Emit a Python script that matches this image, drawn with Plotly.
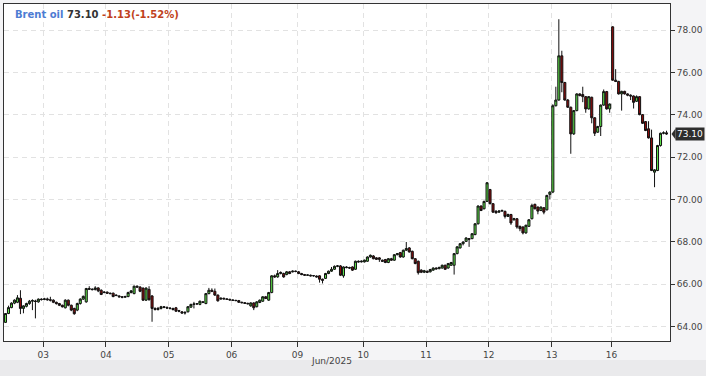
import plotly.graph_objects as go

# ---------------- data ----------------
day_labels = ["02", "03", "04", "05", "06", "09", "10", "11", "12", "13", "16"]
day_counts = [13, 21, 21, 21, 22, 22, 21, 21, 21, 20, 19]

open_ = [
    64.19, 64.61, 64.89, 65.10, 65.14, 65.33, 64.85, 64.95, 65.08, 65.19,
    65.20, 65.16, 65.29, 65.27, 65.30, 65.26, 65.24, 65.14, 65.08, 65.00,
    64.88, 65.24, 65.00, 64.85, 64.77, 65.08, 65.29, 65.16, 65.79, 65.76,
    65.74, 65.82, 65.71, 65.60, 65.62, 65.57, 65.57, 65.48, 65.44, 65.40,
    65.38, 65.41, 65.60, 65.55, 65.90, 65.86, 65.81, 65.24, 65.75, 65.44,
    64.85, 64.80, 64.85, 64.93, 64.90, 64.87, 64.85, 64.88, 64.75, 64.69,
    64.63, 64.69, 64.91, 65.04, 65.06, 65.04, 65.16, 65.08, 65.55, 65.71,
    65.66, 65.48, 65.29, 65.33, 65.30, 65.28, 65.25, 65.23, 65.22, 65.14,
    65.12, 65.09, 64.97, 65.11, 64.93, 65.13, 65.19, 65.40, 65.24, 65.60,
    66.39, 66.34, 66.50, 66.50, 66.45, 66.58, 66.58, 66.61, 66.58, 66.50,
    66.45, 66.42, 66.42, 66.39, 66.38, 66.39, 66.23, 66.27, 66.50, 66.61,
    66.70, 66.84, 66.86, 66.39, 66.81, 66.78, 66.81, 66.70, 67.08, 67.05,
    67.05, 67.08, 67.28, 67.33, 67.24, 67.24, 67.13, 67.16, 67.02, 67.20,
    67.13, 67.39, 67.49, 67.28, 67.60, 67.71, 67.55, 67.20, 67.08, 66.66,
    66.56, 66.61, 66.58, 66.66, 66.76, 66.73, 66.76, 66.89, 66.76, 66.89,
    66.89, 67.44, 67.71, 67.91, 68.02, 68.15, 68.15, 68.34, 68.85, 69.69,
    69.56, 69.91, 70.47, 69.80, 69.44, 69.40, 69.45, 69.44, 69.20, 69.29,
    69.04, 69.09, 68.73, 68.70, 68.42, 68.73, 69.09, 69.77, 69.64, 69.48,
    69.61, 69.51, 70.24, 70.35, 74.43, 74.70, 76.79, 75.53, 74.70, 74.36,
    73.10, 74.20, 74.99, 74.96, 74.86, 74.28, 74.83, 73.86, 73.18, 73.45,
    74.46, 75.10, 74.28, 78.16, 75.64, 75.58, 74.99, 75.11, 74.99, 74.93,
    74.89, 74.64, 74.86, 74.01, 73.68, 73.34, 72.91, 71.29, 71.37, 72.55,
    73.13, 73.15,
]
high = [
    64.63, 64.98, 65.14, 65.28, 65.48, 65.71, 65.00, 65.12, 65.25, 65.28,
    65.26, 65.32, 65.33, 65.35, 65.36, 65.40, 65.28, 65.17, 65.11, 65.03,
    65.28, 65.27, 65.03, 64.88, 65.12, 65.33, 65.46, 65.82, 65.90, 65.80,
    65.90, 65.85, 65.75, 65.66, 65.65, 65.60, 65.60, 65.52, 65.47, 65.43,
    65.45, 65.64, 65.72, 65.93, 65.94, 65.90, 65.84, 65.85, 65.90, 65.48,
    64.90, 64.92, 64.97, 64.96, 64.94, 64.90, 64.88, 64.92, 64.78, 64.72,
    64.72, 64.96, 65.07, 65.16, 65.10, 65.22, 65.20, 65.58, 65.82, 65.80,
    65.79, 65.51, 65.37, 65.36, 65.33, 65.31, 65.28, 65.26, 65.25, 65.17,
    65.15, 65.12, 65.14, 65.14, 65.19, 65.27, 65.43, 65.44, 65.63, 66.42,
    66.45, 66.66, 66.60, 66.54, 66.62, 66.62, 66.65, 66.64, 66.62, 66.53,
    66.48, 66.46, 66.45, 66.43, 66.41, 66.42, 66.26, 66.53, 66.64, 66.81,
    66.88, 66.90, 66.90, 66.84, 66.85, 66.82, 66.84, 67.11, 67.12, 67.12,
    67.16, 67.31, 67.40, 67.37, 67.27, 67.27, 67.16, 67.19, 67.23, 67.24,
    67.42, 67.47, 67.52, 67.63, 67.99, 67.75, 67.58, 67.23, 67.11, 66.70,
    66.67, 66.64, 66.72, 66.79, 66.79, 66.82, 66.92, 66.92, 67.00, 67.05,
    67.47, 67.79, 67.94, 68.02, 68.21, 68.18, 68.41, 68.88, 69.72, 69.72,
    69.94, 70.82, 70.50, 69.83, 69.50, 69.50, 69.52, 69.47, 69.33, 69.32,
    69.13, 69.12, 68.76, 68.73, 68.81, 69.07, 69.80, 69.80, 69.67, 69.67,
    69.64, 70.22, 70.38, 74.50, 75.33, 78.52, 77.03, 75.56, 74.75, 74.39,
    74.23, 75.02, 75.02, 75.33, 74.89, 74.89, 74.86, 73.89, 73.48, 74.49,
    75.20, 75.13, 74.54, 78.19, 76.16, 75.61, 75.14, 75.14, 75.02, 74.97,
    74.92, 74.92, 74.89, 74.04, 73.71, 73.70, 73.30, 71.43, 72.58, 73.16,
    73.22, 73.25,
]
low = [
    64.17, 64.58, 64.86, 65.05, 65.10, 64.58, 64.62, 64.90, 65.02, 64.77,
    64.38, 65.12, 65.22, 65.24, 65.22, 65.18, 65.10, 65.03, 64.96, 64.89,
    64.85, 64.95, 64.72, 64.55, 64.72, 65.03, 65.25, 65.12, 65.72, 65.70,
    65.70, 65.62, 65.48, 65.57, 65.54, 65.52, 65.38, 65.43, 65.36, 65.33,
    65.35, 65.38, 65.56, 65.52, 65.82, 65.62, 65.20, 65.20, 65.22, 64.22,
    64.75, 64.75, 64.80, 64.86, 64.82, 64.80, 64.75, 64.68, 64.67, 64.60,
    64.56, 64.66, 64.88, 64.85, 65.02, 65.00, 65.10, 65.05, 65.52, 65.62,
    65.44, 65.17, 65.26, 65.27, 65.25, 65.22, 65.20, 65.19, 65.11, 65.09,
    65.06, 65.04, 64.93, 64.77, 64.90, 65.10, 65.16, 65.29, 65.21, 65.57,
    66.30, 66.30, 66.46, 66.30, 66.42, 66.47, 66.55, 66.56, 66.47, 66.42,
    66.39, 66.39, 66.36, 66.35, 66.31, 66.07, 66.03, 66.24, 66.47, 66.58,
    66.67, 66.80, 66.38, 66.30, 66.75, 66.72, 66.62, 66.67, 67.02, 67.02,
    67.02, 67.05, 67.25, 67.17, 67.14, 67.05, 67.05, 66.99, 66.99, 67.10,
    67.10, 67.36, 67.25, 67.25, 67.57, 67.49, 67.17, 66.94, 66.45, 66.52,
    66.52, 66.52, 66.55, 66.63, 66.69, 66.70, 66.73, 66.67, 66.73, 66.86,
    66.45, 67.41, 67.68, 67.83, 67.99, 67.76, 68.12, 68.31, 68.82, 69.45,
    69.53, 69.88, 69.77, 69.37, 69.33, 69.37, 69.42, 69.10, 69.17, 68.80,
    69.00, 68.62, 68.50, 68.35, 68.38, 68.70, 69.06, 69.53, 69.30, 69.45,
    69.30, 69.48, 70.00, 70.30, 74.40, 74.67, 75.07, 74.67, 74.33, 72.16,
    73.05, 74.17, 74.88, 74.60, 74.10, 74.25, 73.60, 73.00, 73.15, 73.00,
    74.43, 74.25, 74.10, 75.61, 75.55, 74.96, 74.20, 74.96, 74.88, 74.70,
    74.30, 74.61, 73.98, 73.57, 73.23, 72.88, 71.34, 70.58, 71.34, 72.50,
    73.08, 73.06,
]
close = [
    64.61, 64.89, 65.10, 65.24, 65.35, 64.85, 64.97, 65.08, 65.19, 65.22,
    65.18, 65.29, 65.27, 65.30, 65.26, 65.24, 65.14, 65.08, 65.00, 64.93,
    65.24, 65.00, 64.77, 64.60, 65.08, 65.29, 65.42, 65.79, 65.76, 65.74,
    65.82, 65.68, 65.51, 65.62, 65.57, 65.55, 65.41, 65.46, 65.40, 65.38,
    65.41, 65.60, 65.68, 65.90, 65.86, 65.66, 65.24, 65.81, 65.26, 64.85,
    64.80, 64.85, 64.93, 64.90, 64.87, 64.85, 64.80, 64.72, 64.72, 64.63,
    64.66, 64.93, 65.04, 65.06, 65.07, 65.19, 65.14, 65.55, 65.71, 65.66,
    65.48, 65.21, 65.33, 65.30, 65.28, 65.25, 65.23, 65.22, 65.14, 65.12,
    65.09, 65.07, 65.11, 64.88, 65.16, 65.24, 65.40, 65.32, 65.60, 66.39,
    66.34, 66.50, 66.55, 66.34, 66.58, 66.50, 66.61, 66.60, 66.50, 66.45,
    66.42, 66.43, 66.39, 66.40, 66.34, 66.23, 66.18, 66.50, 66.61, 66.70,
    66.84, 66.86, 66.42, 66.81, 66.78, 66.76, 66.66, 67.08, 67.05, 67.08,
    67.13, 67.28, 67.36, 67.20, 67.17, 67.17, 67.08, 67.02, 67.20, 67.13,
    67.39, 67.44, 67.28, 67.60, 67.68, 67.52, 67.20, 66.97, 66.54, 66.56,
    66.63, 66.56, 66.69, 66.76, 66.72, 66.79, 66.89, 66.70, 66.97, 67.02,
    67.44, 67.76, 67.91, 67.99, 68.18, 68.12, 68.38, 68.85, 69.69, 69.48,
    69.91, 70.79, 69.80, 69.40, 69.37, 69.45, 69.48, 69.20, 69.29, 68.89,
    69.09, 68.70, 68.62, 68.42, 68.78, 69.04, 69.72, 69.56, 69.45, 69.64,
    69.40, 70.19, 70.35, 74.43, 74.70, 76.79, 75.53, 74.70, 74.36, 73.10,
    74.20, 74.99, 74.91, 74.86, 74.28, 74.86, 73.86, 73.13, 73.45, 74.46,
    75.10, 74.28, 74.51, 75.64, 75.58, 74.99, 75.11, 74.99, 74.93, 74.89,
    74.59, 74.86, 74.01, 73.60, 73.26, 72.91, 71.37, 71.40, 72.55, 73.13,
    73.15, 73.10,
]

price_ticks = [64, 66, 68, 70, 72, 74, 76, 78]
title_name = "Brent oil"
last_text = "73.10"
change_text = "-1.13(-1.52%)"
month_label = "Jun/2025"

# ---------------- figure ----------------
x = list(range(len(close)))
starts = []
s = 0
for c in day_counts:
    starts.append(s)
    s += c
tickvals = [st - 0.4 for st in starts[1:]]
ticktext = day_labels[1:]

FONT = "DejaVu Sans"

fig = go.Figure(
    go.Candlestick(
        x=x, open=open_, high=high, low=low, close=close,
        increasing=dict(fillcolor="#5ddf48", line=dict(color="#111111", width=1)),
        decreasing=dict(fillcolor="#8b0c0c", line=dict(color="#111111", width=1)),
        whiskerwidth=0,
        hoverinfo="skip",
        showlegend=False,
    )
)

grid = dict(showgrid=True, gridcolor="#e2e2e2", griddash="5px,4px", gridwidth=1)

fig.update_layout(
    width=706, height=376, autosize=False,
    margin=dict(l=3, r=35, t=3, b=35),
    paper_bgcolor="#f4f4f6", plot_bgcolor="#ffffff",
    boxgap=0.02,
    font=dict(family=FONT, size=9, color="#444444"),
    xaxis=dict(
        range=[-0.5, 222.17], tickmode="array", tickvals=tickvals, ticktext=ticktext,
        ticks="outside", ticklen=5, tickcolor="#333333",
        showline=True, linecolor="#333333", linewidth=1, mirror=True,
        zeroline=False, rangeslider=dict(visible=False),
        tickfont=dict(family=FONT, size=9, color="#444444"),
        **grid,
    ),
    yaxis=dict(
        side="right", range=[63.31, 79.24], tickmode="array",
        tickvals=price_ticks, ticktext=[f"{v:.2f}" for v in price_ticks],
        ticks="outside", ticklen=4, tickcolor="#333333",
        showline=True, linecolor="#333333", linewidth=1, mirror=True,
        zeroline=False,
        tickfont=dict(family=FONT, size=9, color="#444444"),
        **grid,
    ),
)

# bottom strip with month label
fig.add_shape(type="rect", xref="paper", yref="paper", x0=-0.01, x1=1.06,
              y0=-0.11, y1=-0.0562, fillcolor="#eaeaec", line=dict(width=0), layer="below")
fig.add_annotation(xref="paper", yref="paper", x=0.492, y=-0.079, text=month_label,
                   showarrow=False, font=dict(family=FONT, size=9, color="#444444"))

# title
fig.add_annotation(
    xref="paper", yref="paper", x=0.0135, y=0.9675, xanchor="left", yanchor="middle",
    showarrow=False, align="left",
    text=(f"<b><span style='color:#4d7cd3'>{title_name}</span> "
          f"<span style='color:#333333'>{last_text}</span> "
          f"<span style='color:#c0421c'>{change_text}</span></b>"),
    font=dict(family=FONT, size=10),
)

# last price marker
fig.add_shape(type="path", xref="paper", yref="y", xsizemode="pixel", ysizemode="pixel",
              xanchor=1, yanchor=close[-1], path="M 1.5 0 L 5.5 5.5 L 5.5 -5.5 Z",
              fillcolor="#2e2e2e", line=dict(width=0))
fig.add_annotation(xref="paper", yref="y", x=1, xshift=5, y=close[-1], xanchor="left",
                   yanchor="middle", text=last_text, showarrow=False, bgcolor="#2e2e2e",
                   borderpad=1, font=dict(family=FONT, size=9, color="#ffffff"))

fig.write_html("out.html", config={"displayModeBar": False},
               post_script="document.body.style.margin='0';")
